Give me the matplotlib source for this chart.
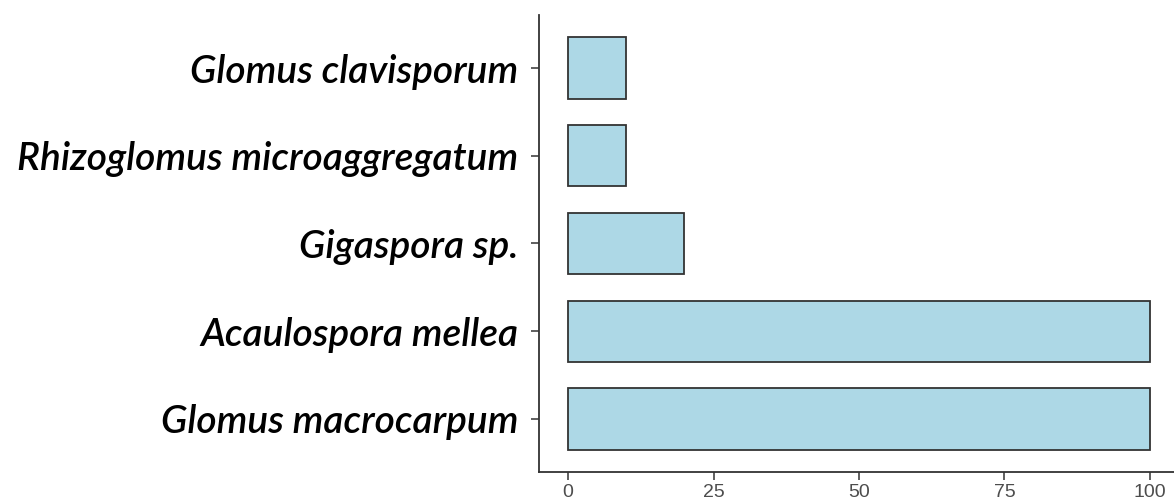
import matplotlib.pyplot as plt

# species from bottom to top, percentage values
species = ["Glomus macrocarpum", "Acaulospora mellea", "Gigaspora sp.",
           "Rhizoglomus microaggregatum", "Glomus clavisporum"]
values = [100, 100, 20, 10, 10]
xticks = [0, 25, 50, 75, 100]

fig = plt.figure(figsize=(11.74, 5.04), dpi=100)
ax = fig.add_axes([539 / 1174, (504 - 471.6) / 504, 640 / 1174, 456.2 / 504])

ax.barh(range(len(species)), values, height=0.7, color="#ADD8E6",
        edgecolor="#333333", linewidth=1.3)

ax.set_xlim(-5, 105)
ax.set_ylim(-0.6, len(species) - 0.4)
ax.set_xticks(xticks)
ax.set_xticklabels([str(t) for t in xticks], family="Liberation Sans",
                   fontsize=14, color="#4D4D4D")
ax.set_yticks(range(len(species)))
ax.set_yticklabels(species, family="Lato", style="italic", fontsize=28,
                   fontweight="semibold", color="black")

for s in ["top", "right"]:
    ax.spines[s].set_visible(False)
for s in ["left", "bottom"]:
    ax.spines[s].set_color("#333333")
    ax.spines[s].set_linewidth(1.3)
ax.tick_params(axis="both", length=6, width=1.1, color="#333333")
ax.tick_params(axis="y", pad=9)
ax.tick_params(axis="x", pad=3)

fig.savefig("out.png", dpi=100)
